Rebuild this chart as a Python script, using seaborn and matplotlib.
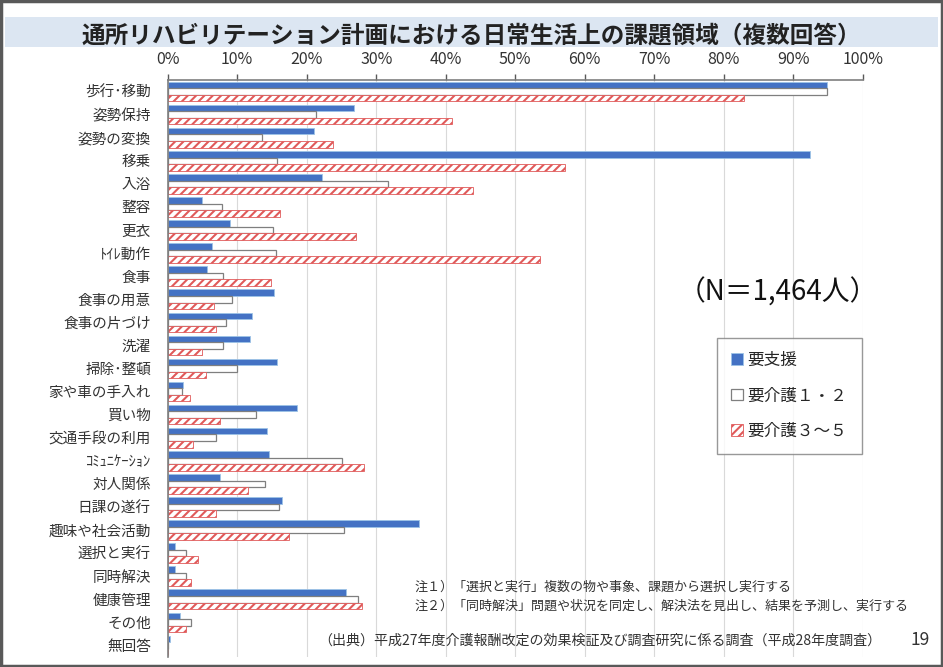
import numpy as np
import pandas as pd
import matplotlib
matplotlib.use("Agg")
import matplotlib.pyplot as plt
from matplotlib.patches import Rectangle
import seaborn as sns

# data (percent)
items = [
    "歩行･移動", "姿勢保持", "姿勢の変換", "移乗", "入浴", "整容", "更衣", "ﾄｲﾚ動作",
    "食事", "食事の用意", "食事の片づけ", "洗濯", "掃除･整頓", "家や車の手入れ", "買い物",
    "交通手段の利用", "ｺﾐｭﾆｹｰｼｮﾝ", "対人関係", "日課の遂行", "趣味や社会活動",
    "選択と実行", "同時解決", "健康管理", "その他", "無回答",
]
groups = ["要支援", "要介護１・２", "要介護３～５"]
support = [94.9, 26.8, 21.1, 92.4, 22.2, 5.0, 9.0, 6.4, 5.7, 15.3, 12.1, 11.8, 15.7,
           2.2, 18.6, 14.3, 14.6, 7.5, 16.4, 36.1, 1.1, 1.1, 25.7, 1.8, 0.4]
care12 = [94.8, 21.4, 13.5, 15.7, 31.7, 7.8, 15.1, 15.6, 7.9, 9.2, 8.4, 7.9, 10.0,
          2.0, 12.7, 7.0, 25.1, 14.0, 16.0, 25.4, 2.7, 2.7, 27.4, 3.3, 0.1]
care35 = [82.9, 40.9, 23.8, 57.2, 43.9, 16.1, 27.1, 53.6, 14.8, 6.7, 7.0, 4.9, 5.5,
          3.2, 7.5, 3.6, 28.3, 11.5, 7.0, 17.4, 4.4, 3.4, 27.9, 2.6, 0.1]
xticks = list(range(0, 101, 10))

sns.set_style("white")
plt.rcParams["font.family"] = ["Noto Sans CJK JP", "DejaVu Sans"]
plt.rcParams["hatch.linewidth"] = 1.5

df = pd.DataFrame({
    "item": items * 3,
    "group": [groups[0]] * len(items) + [groups[1]] * len(items) + [groups[2]] * len(items),
    "value": support + care12 + care35,
})

fig = plt.figure(figsize=(9.43, 6.67), dpi=100)

# title band and outer frame
fig.patches.append(Rectangle((0.005, 0.930), 0.99, 0.045, transform=fig.transFigure,
                             facecolor="#dce6f2", edgecolor="none", zorder=0))
fig.patches.append(Rectangle((0.001, 0.001), 0.998, 0.998, transform=fig.transFigure,
                             facecolor="none", edgecolor="#595959", linewidth=2.5, zorder=5))
fig.text(0.5, 0.947, "通所リハビリテーション計画における日常生活上の課題領域（複数回答）",
         ha="center", va="center", fontsize=17, fontweight="bold", color="#222222")

ax = fig.add_axes([0.1778, 0.015, 0.7371, 0.865])
sns.barplot(data=df, y="item", x="value", hue="group", hue_order=groups,
            orient="h", width=0.85, legend=False, ax=ax, saturation=1,
            palette=["#4472c4", "white", "white"])

styles = [
    dict(facecolor="#4472c4", edgecolor="#9dc3e6", linewidth=0.6, hatch=None),
    dict(facecolor="white", edgecolor="#7f7f7f", linewidth=0.9, hatch=None),
    dict(facecolor="white", edgecolor="#e05a5a", linewidth=0.6, hatch="////"),
]
for cont, st in zip(ax.containers, styles):
    for p in cont:
        p.set_facecolor(st["facecolor"])
        p.set_edgecolor(st["edgecolor"])
        p.set_linewidth(st["linewidth"])
        if st["hatch"]:
            p.set_hatch(st["hatch"])

ax.set_xlim(0, 100)
ax.set_xticks(xticks)
ax.set_xticklabels([f"{t}%" for t in xticks], fontsize=11.5, color="#333333")
ax.xaxis.tick_top()
ax.tick_params(axis="x", direction="out", length=4, width=1, color="#595959", pad=5)
ax.tick_params(axis="y", length=0, labelsize=10.5, pad=12, labelcolor="#333333")
ax.set_xlabel("")
ax.set_ylabel("")
ax.grid(axis="x", color="#d9d9d9", linewidth=0.8)
ax.set_axisbelow(True)
for side in ["right", "bottom"]:
    ax.spines[side].set_visible(False)
for side in ["top", "left"]:
    ax.spines[side].set_color("#7f7f7f")
    ax.spines[side].set_linewidth(1.2)

leg = ax.legend(ax.containers, groups, loc="upper left", bbox_to_anchor=(0.79, 0.553),
                fontsize=12, frameon=True, fancybox=False, edgecolor="#7f7f7f",
                handlelength=0.7, handleheight=0.7, handletextpad=0.3,
                labelspacing=1.1, borderpad=0.85, borderaxespad=0)
leg.get_frame().set_linewidth(1.0)

fig.text(0.825, 0.562, "（N＝1,464人）", ha="center", va="center", fontsize=20, color="#111111")

fig.text(0.44, 0.120, "注１）「選択と実行」複数の物や事象、課題から選択し実行する",
         ha="left", va="center", fontsize=9.4, color="#333333")
fig.text(0.44, 0.091, "注２）「同時解決」問題や状況を同定し、解決法を見出し、結果を予測し、実行する",
         ha="left", va="center", fontsize=9.4, color="#333333")
fig.text(0.337, 0.040, "（出典）平成27年度介護報酬改定の効果検証及び調査研究に係る調査（平成28年度調査）",
         ha="left", va="center", fontsize=10.1, color="#333333")
fig.text(0.976, 0.040, "19", ha="center", va="center", fontsize=12.5, color="#333333")

fig.savefig("out.png", dpi=100)
